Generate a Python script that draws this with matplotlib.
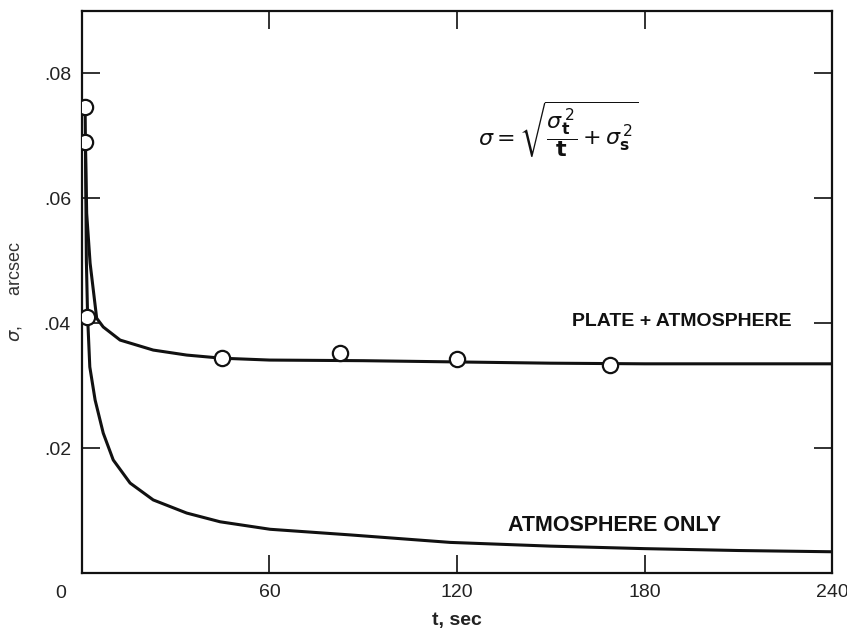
import matplotlib.pyplot as plt
import numpy as np

# measured points (t in sec, sigma in arcsec)
obs_t = [1.0, 1.0, 1.5, 44.7, 82.6, 120.1, 169.0]
obs_sigma = [0.0746, 0.0690, 0.0410, 0.0345, 0.0352, 0.0343, 0.0333]

# plate + atmosphere curve
plate_t = [1.0, 1.1, 1.5, 2.6, 4.7, 6.8, 12.2, 22.8, 33.5, 44.7, 60, 90, 120, 150, 180, 210, 240]
plate_sigma = [0.0746, 0.0690, 0.0576, 0.0496, 0.0408, 0.0394, 0.0373, 0.0357, 0.0349,
               0.0344, 0.0341, 0.0340, 0.0338, 0.0336, 0.0335, 0.0335, 0.0335]

# atmosphere only curve
atm_t = [1.1, 1.4, 1.8, 2.5, 4.2, 6.8, 10, 15.4, 22.8, 33.5, 44.2, 60.2, 85.8, 117.8,
         150, 180, 210, 240]
atm_sigma = [0.0690, 0.0500, 0.0410, 0.0330, 0.0277, 0.0224, 0.0181, 0.0144, 0.0117,
             0.0096, 0.0082, 0.0070, 0.0061, 0.0049, 0.0043, 0.0039, 0.0036, 0.0034]

x_ticks = [0, 60, 120, 180, 240]
x_tick_labels = ["", "60", "120", "180", "240"]
y_ticks = [0.0, 0.02, 0.04, 0.06, 0.08]
y_tick_labels = ["", ".02", ".04", ".06", ".08"]

plt.rcParams["mathtext.fontset"] = "dejavusans"

fig = plt.figure(figsize=(8.47, 6.33), dpi=100)
ax = fig.add_axes([0.0968, 0.0948, 0.8855, 0.8878])

ax.plot(plate_t, plate_sigma, color="#111111", linewidth=2.2, solid_capstyle="round")
ax.plot(atm_t, atm_sigma, color="#111111", linewidth=2.2, solid_capstyle="round")
ax.plot(obs_t, obs_sigma, linestyle="none", marker="o", markersize=11,
        markerfacecolor="white", markeredgecolor="#111111", markeredgewidth=1.6, zorder=3)

ax.set_xlim(0, 240)
ax.set_ylim(0, 0.09)
ax.set_xticks(x_ticks)
ax.set_xticklabels(x_tick_labels)
ax.set_yticks(y_ticks)
ax.set_yticklabels(y_tick_labels)
ax.tick_params(direction="in", length=13, width=1.3, top=True, right=True,
               labelsize=14, colors="#222222", pad=8)
for label in ax.get_xticklabels():
    label.set_family(["Liberation Sans Narrow", "Liberation Sans"])
for label in ax.get_yticklabels():
    label.set_family("Liberation Sans")
for spine in ax.spines.values():
    spine.set_linewidth(1.6)
    spine.set_color("#111111")

ax.text(-0.028, -0.036, "0", transform=ax.transAxes, ha="center", va="center",
        fontsize=14, color="#222222", family=["Liberation Sans Narrow", "Liberation Sans"])

ax.set_xlabel("t, sec", fontsize=14, fontweight="bold", labelpad=8,
              family=["Liberation Sans Narrow", "Liberation Sans"], color="#222222")
ax.set_ylabel(r"$\sigma$,      arcsec", fontsize=13, labelpad=14,
              family="Liberation Sans", color="#333333")

ax.text(0.80, 0.447, "PLATE + ATMOSPHERE", transform=ax.transAxes, ha="center", va="center",
        fontsize=14, fontweight="bold", family="Liberation Sans", color="#111111")
ax.text(0.71, 0.085, "ATMOSPHERE ONLY", transform=ax.transAxes, ha="center", va="center",
        fontsize=15.5, fontweight="bold", family="Liberation Sans", color="#111111")

ax.text(0.635, 0.788,
        r"$\sigma = \sqrt{\dfrac{\sigma_\mathbf{t}^{\,2}}{\mathbf{t}} + \sigma_\mathbf{s}^{\,2}}$",
        transform=ax.transAxes, ha="center", va="center", fontsize=16, color="#111111")

fig.savefig("out.png", dpi=100)
plt.close(fig)
